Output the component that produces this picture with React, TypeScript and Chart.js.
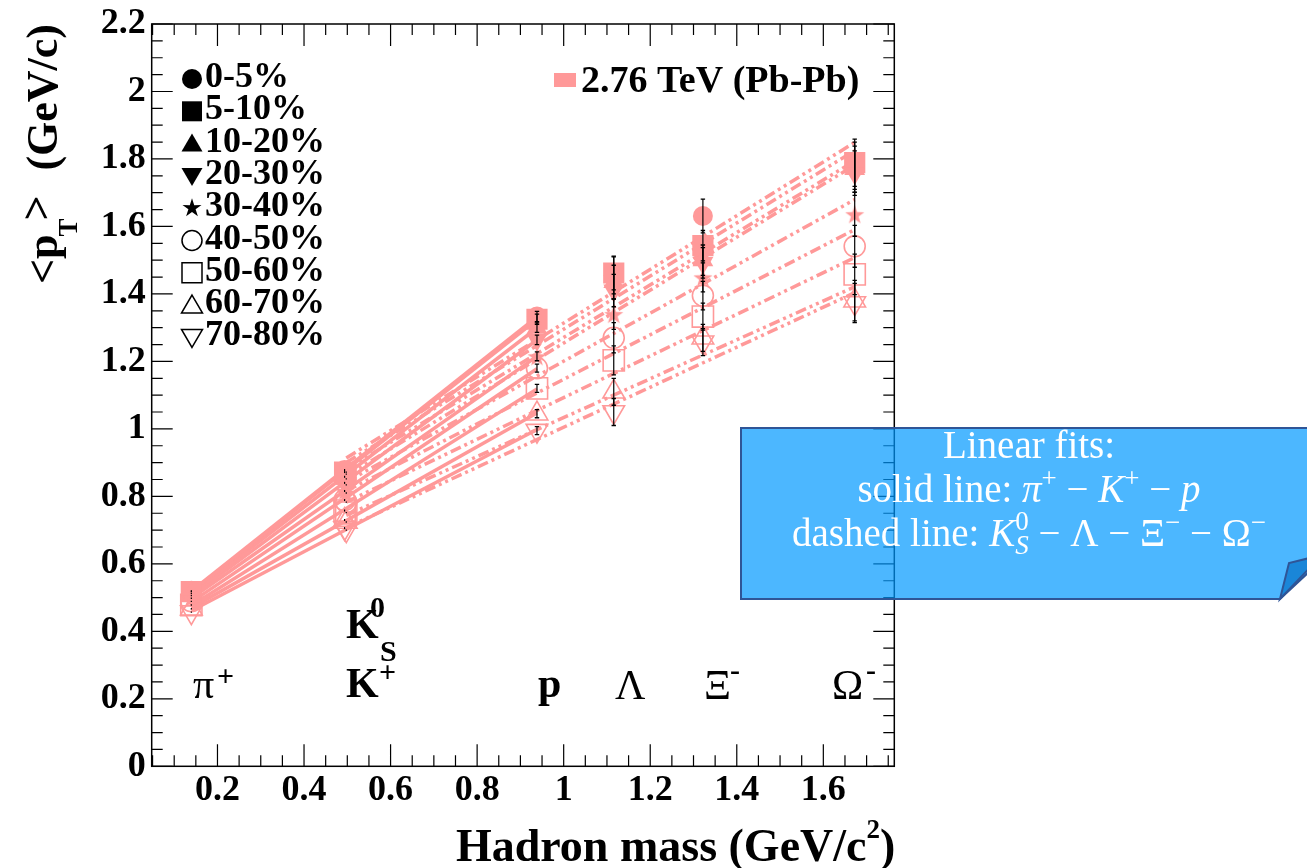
import React, { useEffect, useRef } from "react";
import { Chart, registerables } from "chart.js";

Chart.register(...registerables);

// ---------------- data ----------------
const centralities = ["0-5%", "5-10%", "10-20%", "20-30%", "30-40%", "40-50%", "50-60%", "60-70%", "70-80%"];
const systemLabel = "2.76 TeV (Pb-Pb)";

// hadron masses (GeV/c^2): pi+, K+, p, K0S, Lambda, Xi-, Omega-
const particleMasses = [0.1396, 0.4937, 0.9383, 0.4976, 1.1157, 1.3217, 1.6725];

// <pT> (GeV/c) per centrality class
const piMean = [0.52, 0.518, 0.512, 0.506, 0.498, 0.489, 0.478, 0.467, 0.457];
const kMean = [0.878, 0.872, 0.858, 0.84, 0.816, 0.789, 0.758, 0.73, 0.706];
const pMean = [1.333, 1.325, 1.3, 1.264, 1.215, 1.18, 1.12, 1.045, 0.995];
const k0Mean = [0.872, 0.866, 0.852, 0.834, 0.81, 0.783, 0.752, 0.724, 0.7];
const lamMean = [1.455, 1.462, 1.435, 1.41, 1.34, 1.27, 1.203, 1.11, 1.05];
const xiMean = [1.631, 1.543, 1.5, 1.492, 1.449, 1.395, 1.333, 1.27, 1.257];
const omMean = [1.78, 1.789, 1.77, 1.758, 1.636, 1.541, 1.458, 1.38, 1.373];

// uncertainties
const piErr = [0.002, 0.002, 0.002, 0.002, 0.002, 0.002, 0.002, 0.002, 0.002];
const kErr = [0.003, 0.003, 0.003, 0.003, 0.003, 0.003, 0.003, 0.003, 0.003];
const pErr = [0.015, 0.015, 0.014, 0.014, 0.013, 0.012, 0.012, 0.012, 0.012];
const k0Err = [0.002, 0.002, 0.002, 0.002, 0.002, 0.002, 0.002, 0.002, 0.002];
const lamErr = [0.055, 0.05, 0.05, 0.048, 0.045, 0.045, 0.043, 0.04, 0.04];
const xiErr = [0.05, 0.045, 0.045, 0.045, 0.043, 0.042, 0.04, 0.04, 0.04];
const omErr = [0.07, 0.07, 0.068, 0.066, 0.065, 0.062, 0.06, 0.06, 0.058];

const xTickValues = [0.2, 0.4, 0.6, 0.8, 1.0, 1.2, 1.4, 1.6];
const yTickValues = [0, 0.2, 0.4, 0.6, 0.8, 1.0, 1.2, 1.4, 1.6, 1.8, 2.0, 2.2];
const xRange = [0.048, 1.764];
const yRange = [0, 2.2];

const meanTable = [piMean, kMean, pMean, k0Mean, lamMean, xiMean, omMean];
const errTable = [piErr, kErr, pErr, k0Err, lamErr, xiErr, omErr];
const solidGroup = [0, 1, 2]; // pi+ - K+ - p
const dashedGroup = [3, 4, 5, 6]; // K0S - Lambda - Xi - Omega

// ---------------- style ----------------
const PINK = "#ff9999";
const SERIF = "'Liberation Serif', 'Times New Roman', Times, serif";

type MStyle = { kind: string; filled: boolean; radius: number; rot: number };
const markerStyles: MStyle[] = [
  { kind: "circle", filled: true, radius: 10, rot: 0 },
  { kind: "rect", filled: true, radius: 15, rot: 0 },
  { kind: "triangle", filled: true, radius: 12, rot: 0 },
  { kind: "triangle", filled: true, radius: 12, rot: 180 },
  { kind: "star", filled: true, radius: 10, rot: 0 },
  { kind: "circle", filled: false, radius: 10.5, rot: 0 },
  { kind: "rect", filled: false, radius: 15, rot: 0 },
  { kind: "triangle", filled: false, radius: 12.5, rot: 0 },
  { kind: "triangle", filled: false, radius: 12.5, rot: 180 },
];

function linFit(xs: number[], ys: number[]) {
  const n = xs.length;
  const mx = xs.reduce((a, b) => a + b, 0) / n;
  const my = ys.reduce((a, b) => a + b, 0) / n;
  let sxy = 0, sxx = 0;
  for (let i = 0; i < n; i++) {
    sxy += (xs[i] - mx) * (ys[i] - my);
    sxx += (xs[i] - mx) * (xs[i] - mx);
  }
  const b = sxy / sxx;
  return { a: my - b * mx, b };
}

function starPath(ctx: CanvasRenderingContext2D, cx: number, cy: number, R: number, r: number) {
  ctx.beginPath();
  for (let i = 0; i < 10; i++) {
    const ang = -Math.PI / 2 + (i * Math.PI) / 5;
    const rr = i % 2 === 0 ? R : r;
    const px = cx + rr * Math.cos(ang);
    const py = cy + rr * Math.sin(ang);
    if (i === 0) ctx.moveTo(px, py);
    else ctx.lineTo(px, py);
  }
  ctx.closePath();
}

function makeStar(color: string, R: number, r: number) {
  const c = document.createElement("canvas");
  const s = Math.ceil(2 * R + 2);
  c.width = s;
  c.height = s;
  const g = c.getContext("2d")!;
  starPath(g, s / 2, s / 2 + 1, R, r);
  g.fillStyle = color;
  g.fill();
  return c;
}

function drawLegendMarker(ctx: CanvasRenderingContext2D, kind: string, rot: number, filled: boolean, x: number, y: number) {
  ctx.save();
  ctx.fillStyle = "#000";
  ctx.strokeStyle = "#000";
  ctx.lineWidth = 1.5;
  ctx.beginPath();
  if (kind === "circle") {
    ctx.arc(x, y, 10, 0, Math.PI * 2);
  } else if (kind === "rect") {
    ctx.rect(x - 10, y - 10, 20, 20);
  } else if (kind === "triangle" && rot === 0) {
    ctx.moveTo(x, y - 10);
    ctx.lineTo(x + 10.5, y + 8);
    ctx.lineTo(x - 10.5, y + 8);
    ctx.closePath();
  } else if (kind === "triangle") {
    ctx.moveTo(x, y + 10);
    ctx.lineTo(x + 10.5, y - 8);
    ctx.lineTo(x - 10.5, y - 8);
    ctx.closePath();
  } else if (kind === "star") {
    starPath(ctx, x, y, 10, 3.8);
  }
  if (filled) ctx.fill();
  else ctx.stroke();
  ctx.restore();
}

type Seg = { t: string; font: string; dy?: number; stack?: { t: string; font: string; dy: number }[] };

function segWidth(ctx: CanvasRenderingContext2D, s: Seg) {
  if (s.stack) {
    let w = 0;
    s.stack.forEach((p) => {
      ctx.font = p.font;
      w = Math.max(w, ctx.measureText(p.t).width);
    });
    return w;
  }
  ctx.font = s.font;
  return ctx.measureText(s.t).width;
}

function drawSegs(ctx: CanvasRenderingContext2D, segs: Seg[], cx: number, y: number) {
  const total = segs.reduce((a, s) => a + segWidth(ctx, s), 0);
  let x = cx - total / 2;
  segs.forEach((s) => {
    const w = segWidth(ctx, s);
    if (s.stack) {
      s.stack.forEach((p) => {
        ctx.font = p.font;
        ctx.fillText(p.t, x, y + p.dy);
      });
    } else {
      ctx.font = s.font;
      ctx.fillText(s.t, x, y + (s.dy || 0));
    }
    x += w;
  });
}

const decorPlugin = {
  id: "decor",
  afterDatasetsDraw(chart: any) {
    const ctx: CanvasRenderingContext2D = chart.ctx;
    const ys = chart.scales.y;
    const nFits = centralities.length * 2;
    ctx.save();
    ctx.strokeStyle = "#000";
    centralities.forEach((_, c) => {
      const meta = chart.getDatasetMeta(nFits + c);
      meta.data.forEach((el: any, k: number) => {
        const v = meanTable[k][c];
        const e = errTable[k][c];
        const x = el.x;
        const y1 = ys.getPixelForValue(v + e);
        const y2 = ys.getPixelForValue(v - e);
        ctx.lineWidth = 1.2;
        ctx.beginPath();
        ctx.moveTo(x, y1);
        ctx.lineTo(x, y2);
        ctx.stroke();
        if (y2 - y1 > 4) {
          ctx.lineWidth = 1.3;
          ctx.beginPath();
          ctx.moveTo(x - 2.2, y1);
          ctx.lineTo(x + 2.2, y1);
          ctx.moveTo(x - 2.2, y2);
          ctx.lineTo(x + 2.2, y2);
          ctx.stroke();
        }
      });
    });
    ctx.restore();
  },
  afterDraw(chart: any) {
    const ctx: CanvasRenderingContext2D = chart.ctx;
    const { left, right, top, bottom } = chart.chartArea;
    const xs = chart.scales.x;
    const ys = chart.scales.y;
    ctx.save();
    // frame
    ctx.strokeStyle = "#000";
    ctx.lineWidth = 1.5;
    ctx.strokeRect(left, top, right - left, bottom - top);
    // ticks
    ctx.lineWidth = 1.2;
    ctx.beginPath();
    for (let i = 1; i * 0.05 <= xRange[1]; i++) {
      const v = i * 0.05;
      if (v < xRange[0]) continue;
      const px = xs.getPixelForValue(v);
      const len = i % 4 === 0 ? 22 : 11;
      ctx.moveTo(px, bottom);
      ctx.lineTo(px, bottom - len);
      ctx.moveTo(px, top);
      ctx.lineTo(px, top + len);
    }
    for (let i = 0; i * 0.05 <= yRange[1] + 1e-9; i++) {
      const v = i * 0.05;
      const py = ys.getPixelForValue(v);
      const len = i % 4 === 0 ? 21 : 11;
      ctx.moveTo(left, py);
      ctx.lineTo(left + len, py);
      ctx.moveTo(right, py);
      ctx.lineTo(right - len, py);
    }
    ctx.stroke();

    ctx.fillStyle = "#000";
    ctx.textBaseline = "alphabetic";
    ctx.textAlign = "left";

    // y title  <p_T> (GeV/c)
    ctx.save();
    ctx.translate(57, 284);
    ctx.rotate(-Math.PI / 2);
    let cx = 0;
    ctx.font = `bold 44px ${SERIF}`;
    ctx.fillText("<", cx, 0);
    cx += ctx.measureText("<").width;
    ctx.fillText("p", cx, 0);
    cx += ctx.measureText("p").width;
    ctx.font = `bold 27px ${SERIF}`;
    ctx.fillText("T", cx - 2, 20);
    cx += ctx.measureText("T").width - 4;
    ctx.font = `bold 44px ${SERIF}`;
    ctx.fillText(">", cx, -6);
    const gw = ctx.measureText("(GeV/c)").width;
    ctx.fillText("(GeV/c)", 284 - 24 - gw, 0);
    ctx.restore();

    // x title  Hadron mass (GeV/c^2)
    ctx.font = `bold 46px ${SERIF}`;
    const wParen = ctx.measureText(")").width;
    ctx.font = `bold 27px ${SERIF}`;
    const w2 = ctx.measureText("2").width;
    ctx.font = `bold 46px ${SERIF}`;
    const wMain = ctx.measureText("Hadron mass (GeV/c").width;
    let tx = right + 1 - wParen - w2 - wMain;
    ctx.fillText("Hadron mass (GeV/c", tx, 861);
    tx += wMain;
    ctx.font = `bold 27px ${SERIF}`;
    ctx.fillText("2", tx, 838);
    tx += w2;
    ctx.font = `bold 46px ${SERIF}`;
    ctx.fillText(")", tx, 861);

    // centrality legend
    centralities.forEach((lab, c) => {
      const base = 87 + c * 32.3;
      const ms = markerStyles[c];
      drawLegendMarker(ctx, ms.kind, ms.rot, ms.filled, 192, base - 8);
      ctx.font = `bold 36px ${SERIF}`;
      ctx.fillStyle = "#000";
      ctx.fillText(lab, 205, base);
    });

    // system legend
    ctx.fillStyle = PINK;
    ctx.fillRect(554, 73, 22, 14);
    ctx.fillStyle = "#000";
    ctx.font = `bold 38px ${SERIF}`;
    ctx.fillText(systemLabel, 581, 92);

    // particle labels
    const big = 42;
    const sm = 30;
    ctx.font = `${big}px ${SERIF}`;
    ctx.fillText("\u03C0", 193, 698);
    ctx.font = `bold ${sm}px ${SERIF}`;
    ctx.fillText("+", 217, 686);

    ctx.font = `bold ${big}px ${SERIF}`;
    ctx.fillText("K", 346, 697);
    ctx.font = `bold ${sm}px ${SERIF}`;
    ctx.fillText("+", 379, 682);

    ctx.font = `bold ${big}px ${SERIF}`;
    ctx.fillText("K", 346, 638);
    ctx.font = `bold ${sm}px ${SERIF}`;
    ctx.fillText("0", 370, 617);
    ctx.fillText("S", 380, 661);

    ctx.font = `bold ${big}px ${SERIF}`;
    ctx.fillText("p", 538, 697);

    ctx.font = `${big}px ${SERIF}`;
    ctx.fillText("\u039B", 615, 699);
    ctx.fillText("\u039E", 704, 699);
    ctx.fillText("\u03A9", 832, 699);
    ctx.font = `bold ${sm}px ${SERIF}`;
    ctx.fillText("-", 730, 680);
    ctx.fillText("-", 866, 680);

    // callout box
    ctx.beginPath();
    ctx.moveTo(741, 428);
    ctx.lineTo(1322, 428);
    ctx.lineTo(1322, 560);
    ctx.lineTo(1280, 599);
    ctx.lineTo(741, 599);
    ctx.closePath();
    ctx.fillStyle = "rgba(0, 152, 255, 0.7)";
    ctx.fill();
    ctx.strokeStyle = "#2f5597";
    ctx.lineWidth = 2;
    ctx.stroke();
    // folded corner
    ctx.beginPath();
    ctx.moveTo(1280, 599);
    ctx.lineTo(1289, 563);
    ctx.lineTo(1322, 555);
    ctx.closePath();
    ctx.fillStyle = "#1a86d8";
    ctx.fill();
    ctx.stroke();

    ctx.fillStyle = "#ffffff";
    const reg = `39px ${SERIF}`;
    const ital = `italic 39px ${SERIF}`;
    const small = `27px ${SERIF}`;
    const smallI = `italic 27px ${SERIF}`;
    const mid = 1029;
    drawSegs(ctx, [{ t: "Linear fits:", font: reg }], mid, 458);
    drawSegs(
      ctx,
      [
        { t: "solid line: ", font: reg },
        { t: "\u03C0", font: ital },
        { t: "+", font: small, dy: -15 },
        { t: " \u2212 ", font: reg },
        { t: "K", font: ital },
        { t: "+", font: small, dy: -15 },
        { t: " \u2212 ", font: reg },
        { t: "p", font: ital },
      ],
      mid,
      502
    );
    drawSegs(
      ctx,
      [
        { t: "dashed line: ", font: reg },
        { t: "K", font: ital },
        { t: "", font: small, stack: [{ t: "0", font: small, dy: -16 }, { t: "S", font: smallI, dy: 8 }] },
        { t: " \u2212 \u039B \u2212 \u039E", font: reg },
        { t: "\u2212", font: small, dy: -15 },
        { t: " \u2212 \u03A9", font: reg },
        { t: "\u2212", font: small, dy: -15 },
      ],
      mid,
      546
    );
    ctx.restore();
  },
};

export default function App() {
  const canvasRef = useRef<HTMLCanvasElement | null>(null);

  useEffect(() => {
    const canvas = canvasRef.current;
    if (!canvas) return;
    const starImg = makeStar(PINK, 10, 4);

    const fitSets: any[] = [];
    centralities.forEach((_, c) => {
      [solidGroup, dashedGroup].forEach((grp, gi) => {
        const xsv = grp.map((k) => particleMasses[k]);
        const ysv = grp.map((k) => meanTable[k][c]);
        const f = linFit(xsv, ysv);
        const x0 = Math.min(...xsv);
        const x1 = Math.max(...xsv);
        fitSets.push({
          label: `fit ${c} ${gi}`,
          data: [
            { x: x0, y: f.a + f.b * x0 },
            { x: x1, y: f.a + f.b * x1 },
          ],
          showLine: true,
          borderColor: PINK,
          backgroundColor: PINK,
          borderWidth: 3.5,
          borderDash: gi === 0 ? [] : [11, 4, 3, 4, 3, 4],
          borderCapStyle: "butt",
          pointRadius: 0,
          fill: false,
          order: 1000,
        });
      });
    });

    const markerSets = centralities.map((lab, c) => {
      const ms = markerStyles[c];
      return {
        label: lab,
        data: particleMasses.map((m, k) => ({ x: m, y: meanTable[k][c] })),
        showLine: false,
        pointStyle: ms.kind === "star" ? starImg : ms.kind,
        pointRadius: ms.radius,
        pointRotation: ms.rot,
        pointBackgroundColor: ms.filled ? PINK : "rgba(0,0,0,0)",
        pointBorderColor: PINK,
        pointBorderWidth: ms.filled ? 0 : 1.6,
        order: 20 - c,
      };
    });

    const fmt = (v: any) => String(Math.round(Number(v) * 10) / 10);
    const tickFont = { family: SERIF, weight: "bold" as const, size: 36, lineHeight: 1 };

    const chart = new Chart(canvas, {
      type: "scatter",
      data: { datasets: [...fitSets, ...markerSets] },
      options: {
        responsive: false,
        maintainAspectRatio: false,
        devicePixelRatio: 1,
        animation: false,
        events: [],
        layout: { padding: { left: 0, top: 20.5, right: 412.7, bottom: 0 } },
        plugins: { legend: { display: false }, tooltip: { enabled: false } },
        scales: {
          x: {
            type: "linear",
            position: "bottom",
            min: xRange[0],
            max: xRange[1],
            grid: { display: false, drawTicks: false },
            border: { display: false },
            afterBuildTicks: (s: any) => {
              s.ticks = xTickValues.map((v) => ({ value: v }));
            },
            afterFit: (s: any) => {
              s.height = 101.7;
            },
            ticks: {
              font: tickFont,
              color: "#000",
              padding: 6,
              maxRotation: 0,
              minRotation: 0,
              autoSkip: false,
              callback: fmt,
            },
          },
          y: {
            type: "linear",
            position: "left",
            min: yRange[0],
            max: yRange[1],
            grid: { display: false, drawTicks: false },
            border: { display: false },
            afterBuildTicks: (s: any) => {
              s.ticks = yTickValues.map((v) => ({ value: v }));
            },
            afterFit: (s: any) => {
              s.width = 151.7;
            },
            ticks: {
              font: tickFont,
              color: "#000",
              padding: 6,
              autoSkip: false,
              callback: fmt,
            },
          },
        },
      } as any,
      plugins: [decorPlugin],
    });
    return () => chart.destroy();
  }, []);

  return (
    <div style={{ position: "fixed", left: 0, top: 0, width: 1307, height: 868, background: "#fff", overflow: "hidden" }}>
      <canvas ref={canvasRef} width={1307} height={868} style={{ display: "block", width: 1307, height: 868 }} />
    </div>
  );
}
